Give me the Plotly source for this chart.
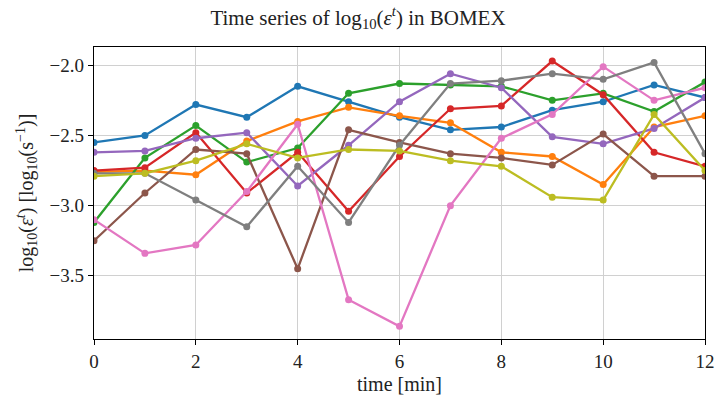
import plotly.graph_objects as go

# Time axis (minutes)
time_min = list(range(13))

# log10 of epsilon^t for each member run
run_blue   = [-2.55, -2.50, -2.28, -2.37, -2.15, -2.26, -2.37, -2.46, -2.44, -2.32, -2.26, -2.14, -2.23]
run_orange = [-2.76, -2.75, -2.78, -2.54, -2.40, -2.30, -2.36, -2.41, -2.62, -2.65, -2.85, -2.44, -2.36]
run_green  = [-3.12, -2.66, -2.43, -2.69, -2.59, -2.20, -2.13, -2.14, -2.15, -2.25, -2.20, -2.33, -2.12]
run_red    = [-2.75, -2.73, -2.48, -2.91, -2.62, -3.04, -2.65, -2.31, -2.29, -1.97, -2.21, -2.62, -2.72]
run_purple = [-2.62, -2.61, -2.52, -2.48, -2.86, -2.57, -2.26, -2.06, -2.16, -2.51, -2.56, -2.45, -2.23]
run_brown  = [-3.25, -2.91, -2.60, -2.63, -3.45, -2.46, -2.55, -2.63, -2.66, -2.71, -2.49, -2.79, -2.79]
run_pink   = [-3.10, -3.34, -3.28, -2.90, -2.42, -3.67, -3.86, -3.00, -2.52, -2.35, -2.01, -2.25, -2.16]
run_gray   = [-2.77, -2.77, -2.96, -3.15, -2.72, -3.12, -2.57, -2.13, -2.11, -2.06, -2.10, -1.98, -2.63]
run_olive  = [-2.79, -2.77, -2.68, -2.56, -2.66, -2.60, -2.61, -2.68, -2.72, -2.94, -2.96, -2.35, -2.75]

series = [
    (run_blue, "#1f77b4"),
    (run_orange, "#ff7f0e"),
    (run_green, "#2ca02c"),
    (run_red, "#d62728"),
    (run_purple, "#9467bd"),
    (run_brown, "#8c564b"),
    (run_pink, "#e377c2"),
    (run_gray, "#7f7f7f"),
    (run_olive, "#bcbd22"),
]

FONT = "Liberation Serif, DejaVu Serif, serif"

fig = go.Figure()
for values, color in series:
    fig.add_trace(go.Scatter(
        x=time_min, y=values, mode="lines+markers",
        line=dict(color=color, width=2.3),
        marker=dict(color=color, size=7),
        showlegend=False, cliponaxis=True,
    ))

axis_common = dict(
    showline=True, linecolor="black", linewidth=1.3, mirror=True,
    ticks="outside", ticklen=5, tickwidth=1.2, tickcolor="black",
    showgrid=True, gridcolor="#d0d0d0", gridwidth=1,
    zeroline=False, automargin=False,
    tickfont=dict(family=FONT, size=19, color="#222"),
)

fig.update_layout(
    width=716, height=401,
    margin=dict(l=94, r=11, t=47, b=62, autoexpand=False),
    paper_bgcolor="white", plot_bgcolor="white",
    title=dict(
        text="Time series of log<sub>10</sub>(<i>ε</i><sup><i>t</i></sup>) in BOMEX",
        x=0.5, xanchor="center", y=0.975, yanchor="top",
        font=dict(family=FONT, size=21, color="#222"),
    ),
    xaxis=dict(
        range=[0, 12], tickvals=[0, 2, 4, 6, 8, 10, 12],
        title=dict(text="time [min]", font=dict(family=FONT, size=20, color="#222"), standoff=6),
        **axis_common,
    ),
    yaxis=dict(
        range=[-3.95, -1.87], tickvals=[-2.0, -2.5, -3.0, -3.5],
        ticktext=["−2.0", "−2.5", "−3.0", "−3.5"],
        title=dict(text="log<sub>10</sub>(<i>ε</i><sup><i>t</i></sup>) [log<sub>10</sub>(s<sup>−1</sup>)]",
                   font=dict(family=FONT, size=20, color="#222"), standoff=10),
        **axis_common,
    ),
)

fig.write_html("out.html")
